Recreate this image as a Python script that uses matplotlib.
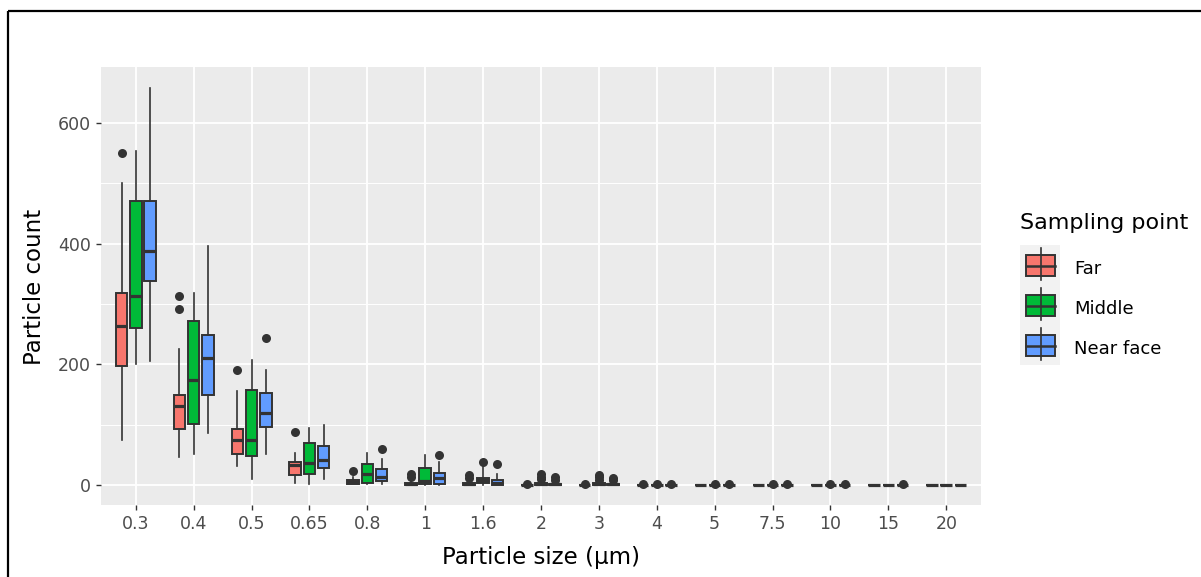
import numpy as np
import matplotlib
matplotlib.use('Agg')
from matplotlib import pyplot as plt
from matplotlib.patches import Rectangle

plt.rcParams['font.family'] = ['DejaVu Sans']

sizes = ['0.3', '0.4', '0.5', '0.65', '0.8', '1', '1.6', '2', '3', '4', '5', '7.5', '10', '15', '20']
groups = ['Far', 'Middle', 'Near face']
colors = ['#F8766D', '#00BA38', '#619CFF']

# box stats: whisker low, q1, median, q3, whisker high, outliers
far_low = [75, 46, 31, 4, 1, 0, 0, 0, 0, 0, 0, 0, 0, 0, 0]
far_q1 = [198, 93, 52, 17, 2, 0, 0, 0, 0, 0, 0, 0, 0, 0, 0]
far_med = [264, 131, 74, 34, 5, 1, 1, 0, 0, 0, 0, 0, 0, 0, 0]
far_q3 = [318, 149, 93, 38, 8, 3, 3, 0, 0, 0, 0, 0, 0, 0, 0]
far_high = [501, 226, 156, 53, 14, 7, 7, 0, 0, 0, 0, 0, 0, 0, 0]
far_out = [[551], [292, 313], [190], [88], [23], [13, 18], [12, 17], [2], [2], [1], [], [], [], [], []]

mid_low = [200, 51, 10, 2, 1, 0, 0, 0, 0, 0, 0, 0, 0, 0, 0]
mid_q1 = [260, 102, 49, 19, 3, 2, 4, 0, 0, 0, 0, 0, 0, 0, 0]
mid_med = [314, 175, 74, 36, 18, 7, 8, 1, 1, 0, 0, 0, 0, 0, 0]
mid_q3 = [471, 272, 157, 70, 35, 29, 12, 3, 3, 0, 0, 0, 0, 0, 0]
mid_high = [554, 319, 208, 94, 53, 50, 30, 6, 6, 0, 0, 0, 0, 0, 0]
mid_out = [[], [], [], [], [], [], [38], [10, 14, 18], [9, 13, 16], [1], [1], [1], [1], [], []]

near_low = [206, 87, 52, 10, 2, 0, 0, 0, 0, 0, 0, 0, 0, 0, 0]
near_q1 = [339, 149, 96, 28, 7, 1, 0, 0, 0, 0, 0, 0, 0, 0, 0]
near_med = [388, 210, 119, 41, 14, 12, 4, 1, 1, 0, 0, 0, 0, 0, 0]
near_q3 = [471, 248, 152, 64, 27, 20, 8, 2, 2, 0, 0, 0, 0, 0, 0]
near_high = [659, 396, 191, 100, 44, 38, 18, 5, 5, 0, 0, 0, 0, 0, 0]
near_out = [[], [], [243], [], [59], [50], [35], [9, 13], [8, 12], [1], [1], [1], [1], [1], []]


def make_stats(low, q1, med, q3, high, out):
    return [dict(whislo=a, q1=b, med=c, q3=d, whishi=e, fliers=f)
            for a, b, c, d, e, f in zip(low, q1, med, q3, high, out)]


all_stats = [
    make_stats(far_low, far_q1, far_med, far_q3, far_high, far_out),
    make_stats(mid_low, mid_q1, mid_med, mid_q3, mid_high, mid_out),
    make_stats(near_low, near_q1, near_med, near_q3, near_high, near_out),
]

W, H = 1201, 577
fig = plt.figure(figsize=(W / 100, H / 100), dpi=100)
# panel placed in pixel coordinates
pl, pr, pt, pb = 101, 981, 67, 505
ax = fig.add_axes([pl / W, 1 - pb / H, (pr - pl) / W, (pb - pt) / H])
ax.set_facecolor('#EBEBEB')
for s in ax.spines.values():
    s.set_visible(False)

edge = '#333333'
x = np.arange(len(sizes))
offsets = [-0.245, 0, 0.245]
for stats, col, off in zip(all_stats, colors, offsets):
    ax.bxp(stats, positions=x + off, widths=0.2, patch_artist=True,
           showcaps=False, manage_ticks=False,
           boxprops=dict(facecolor=col, edgecolor=edge, linewidth=1.4),
           medianprops=dict(color=edge, linewidth=2.3),
           whiskerprops=dict(color=edge, linewidth=1.2),
           flierprops=dict(marker='o', markerfacecolor=edge, markeredgecolor=edge,
                           markersize=6.5, markeredgewidth=0))

ax.set_xlim(-0.6, len(sizes) - 0.4)
ax.set_ylim(-33, 693)
ax.set_xticks(x)
ax.set_xticklabels(sizes)
ax.set_yticks([0, 200, 400, 600])
ax.set_yticks([100, 300, 500], minor=True)
ax.grid(which='major', color='white', linewidth=1.3)
ax.grid(which='minor', axis='y', color='white', linewidth=0.7)
ax.set_axisbelow(True)
ax.tick_params(which='major', length=3.5, width=1.0, color=edge,
               labelcolor='#4D4D4D', labelsize=12.5, pad=4)
ax.tick_params(which='minor', length=0)

fig.text(541 / W, 1 - 564 / H, 'Particle size (µm)', ha='center', va='baseline', fontsize=16.5)
fig.text(35 / W, 1 - 287 / H, 'Particle count', ha='center', va='center', rotation=90, fontsize=16.5)

# overlay in pixel coordinates for the legend and the frame
ov = fig.add_axes([0, 0, 1, 1], facecolor='none')
ov.set_xlim(0, W)
ov.set_ylim(H, 0)
ov.axis('off')
ov.plot([7.5, 7.5], [H, 11], color='black', linewidth=1.6, solid_capstyle='butt')
ov.plot([7.5, W], [11, 11], color='black', linewidth=1.6, solid_capstyle='butt')

ov.text(1020, 229, 'Sampling point', ha='left', va='baseline', fontsize=16)
for i, (name, col) in enumerate(zip(groups, colors)):
    top = 245 + 40 * i
    ov.add_patch(Rectangle((1020, top), 40, 40, facecolor='#F2F2F2', edgecolor='none'))
    ov.plot([1040.5, 1040.5], [top + 3, top + 35], color=edge, linewidth=1.2)
    ov.add_patch(Rectangle((1026, top + 10), 29, 21, facecolor=col, edgecolor=edge, linewidth=1.4))
    ov.plot([1026, 1055], [top + 20.5, top + 20.5], color=edge, linewidth=1.8)
    ov.text(1074, top + 29, name, ha='left', va='baseline', fontsize=13)

fig.savefig('out.png', dpi=100)
